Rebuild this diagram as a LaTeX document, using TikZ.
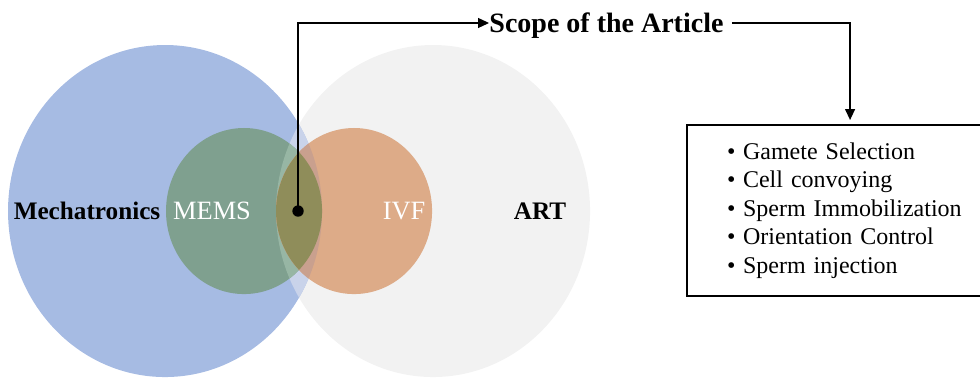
\documentclass[tikz,border=0pt]{standalone}
\usepackage{fontspec}
\setmainfont{Liberation Serif}
\usetikzlibrary{arrows.meta, positioning, calc}
\definecolor{cblue}{HTML}{A6BBE3}
\definecolor{cgrey}{HTML}{F2F2F2}
\definecolor{cbluegrey}{HTML}{C9D3EA}
\definecolor{cgreen}{HTML}{7FA08F}
\definecolor{cgreengrey}{HTML}{97B6A4}
\definecolor{corange}{HTML}{DDAB88}
\definecolor{corangeblue}{HTML}{C9A08E}
\definecolor{colive}{HTML}{8F8D5A}
\newcommand{\itembullet}{\makebox[8pt][l]{\textbullet}}
\tikzset{
  every picture/.style={font=\fontsize{12}{14.2}\selectfont},
  setname/.style={inner sep=0pt},
  subname/.style={setname, text=white, font=\fontsize{13.2}{15}\selectfont},
  bigname/.style={setname, font=\fontsize{12.6}{14.2}\selectfont\bfseries},
  title/.style={setname, font=\fontsize{14}{16}\selectfont\bfseries},
  link/.style={draw=black, line width=0.6pt},
  linkarrow/.style={link, -{Triangle[length=5.5pt, width=5pt]}},
  listbox/.style={draw, line width=1pt, align=left, text width=123pt, inner xsep=20pt,
    minimum width=5.729cm, minimum height=3.005cm},
}

\begin{document}
\begin{tikzpicture}
  \useasboundingbox (0,-2.917) rectangle (17.22,3.708);
  % big sets
  \fill[cgrey] (7.609,0) ellipse [x radius=2.759, y radius=2.917];
  \fill[cblue] (2.90,0) ellipse [x radius=2.759, y radius=2.917];
  \begin{scope}
    \clip (2.90,0) ellipse [x radius=2.759, y radius=2.917];
    \fill[cbluegrey] (7.609,0) ellipse [x radius=2.759, y radius=2.917];
  \end{scope}
  % small sets
  \fill[cgreen] (4.288,0) ellipse [x radius=1.371, y radius=1.459];
  \begin{scope}
    \clip (4.288,0) ellipse [x radius=1.371, y radius=1.459];
    \fill[cgreengrey] (7.609,0) ellipse [x radius=2.759, y radius=2.917];
  \end{scope}
  \fill[corange] (6.221,0) ellipse [x radius=1.371, y radius=1.459];
  \begin{scope}
    \clip (6.221,0) ellipse [x radius=1.371, y radius=1.459];
    \fill[corangeblue] (2.90,0) ellipse [x radius=2.759, y radius=2.917];
    \clip (4.288,0) ellipse [x radius=1.371, y radius=1.459];
    \fill[colive] (6.221,0) ellipse [x radius=1.371, y radius=1.459];
  \end{scope}

  \node[bigname] (mech) at (1.529,0) {Mechatronics};
  \node[subname] (mems) at (3.726,0) {MEMS};
  \node[subname] (ivf) at (7.10,0) {IVF};
  \node[bigname] (art) at (9.49,0) {ART};

  \node[circle, fill=black, inner sep=0pt, minimum size=0.2cm] (dot) at (5.237,0) {};
  \node[title, anchor=west, text depth=0pt] (scope) at (8.593,3.304) {Scope of the Article};
  \node[listbox] (topics) at (14.937,0.009) {%
    \itembullet Gamete Selection\\
    \itembullet Cell convoying\\
    \itembullet Sperm Immobilization\\
    \itembullet Orientation Control\\
    \itembullet Sperm injection};

  \draw[linkarrow] (dot.center) |- (scope.west);
  \draw[linkarrow, shorten >=2pt] ([xshift=4pt]scope.east) -| (topics.north);
\end{tikzpicture}
\end{document}
